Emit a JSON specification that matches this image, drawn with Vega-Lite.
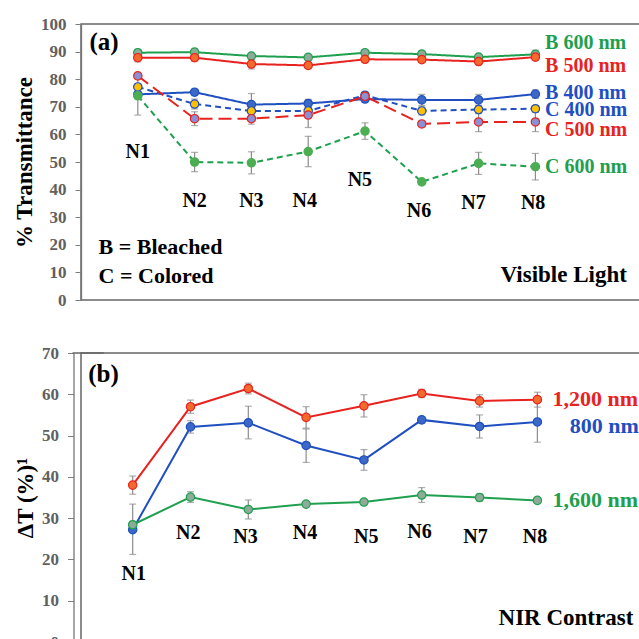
{
  "$schema": "https://vega.github.io/schema/vega-lite/v6.json",
  "padding": {"left": 12, "top": 14, "right": 0, "bottom": 0},
  "background": "white",
  "spacing": 34,
  "resolve": {"scale": {"x": "independent", "y": "independent", "color": "independent", "fill": "independent", "stroke": "independent", "strokeDash": "independent", "size": "independent"}},
  "config": {
    "view": {"stroke": "#666666", "strokeWidth": 1.5},
    "axis": {
      "labelFont": "Liberation Serif", "labelFontWeight": "bold", "labelFontSize": 17, "labelColor": "#606060",
      "tickColor": "#7f7f7f", "tickSize": 6, "domainColor": "#777777", "domainWidth": 1.3, "labelPadding": 9,
      "labelOverlap": false,
      "titleFont": "Liberation Serif", "titleFontSize": 23, "titleFontWeight": "bold", "titleColor": "#000000", "titlePadding": 4,
      "grid": false
    },
    "text": {"font": "Liberation Serif", "fontWeight": "bold"}
  },
  "datasets": {
    "vis": [
      {"s": "B 600", "x": 1, "y": 89.6, "lo": 88.4, "hi": 90.8},
      {"s": "B 600", "x": 2, "y": 89.8, "lo": 88.6, "hi": 91.0},
      {"s": "B 600", "x": 3, "y": 88.4, "lo": 87.6, "hi": 89.2},
      {"s": "B 600", "x": 4, "y": 87.9, "lo": 87.4, "hi": 88.4},
      {"s": "B 600", "x": 5, "y": 89.6, "lo": 89.1, "hi": 90.1},
      {"s": "B 600", "x": 6, "y": 89.1, "lo": 88.1, "hi": 90.1},
      {"s": "B 600", "x": 7, "y": 88.0, "lo": 87.2, "hi": 88.8},
      {"s": "B 600", "x": 8, "y": 89.0, "lo": 87.5, "hi": 90.5},
      {"s": "B 500", "x": 1, "y": 87.8, "lo": 86.3, "hi": 89.3},
      {"s": "B 500", "x": 2, "y": 87.8, "lo": 86.6, "hi": 89.0},
      {"s": "B 500", "x": 3, "y": 85.5, "lo": 83.7, "hi": 87.3},
      {"s": "B 500", "x": 4, "y": 85.0, "lo": 84.0, "hi": 86.0},
      {"s": "B 500", "x": 5, "y": 87.2, "lo": 86.7, "hi": 87.7},
      {"s": "B 500", "x": 6, "y": 87.1, "lo": 86.1, "hi": 88.1},
      {"s": "B 500", "x": 7, "y": 86.4, "lo": 85.6, "hi": 87.2},
      {"s": "B 500", "x": 8, "y": 88.0, "lo": 87.0, "hi": 89.0},
      {"s": "B 400", "x": 1, "y": 74.5, "lo": 73.5, "hi": 75.5},
      {"s": "B 400", "x": 2, "y": 75.3, "lo": 74.3, "hi": 76.3},
      {"s": "B 400", "x": 3, "y": 70.8, "lo": 66.8, "hi": 74.8},
      {"s": "B 400", "x": 4, "y": 71.2, "lo": 69.7, "hi": 72.7},
      {"s": "B 400", "x": 5, "y": 72.8, "lo": 71.8, "hi": 73.8},
      {"s": "B 400", "x": 6, "y": 72.5, "lo": 70.5, "hi": 74.5},
      {"s": "B 400", "x": 7, "y": 72.5, "lo": 70.5, "hi": 74.5},
      {"s": "B 400", "x": 8, "y": 74.6, "lo": 73.1, "hi": 76.1},
      {"s": "C 400", "x": 1, "y": 77.2, "lo": 76.2, "hi": 78.2},
      {"s": "C 400", "x": 2, "y": 71.0, "lo": 69.2, "hi": 72.8},
      {"s": "C 400", "x": 3, "y": 68.5, "lo": 67.5, "hi": 69.5},
      {"s": "C 400", "x": 4, "y": 68.5, "lo": 67.3, "hi": 69.7},
      {"s": "C 400", "x": 5, "y": 74.2, "lo": 73.2, "hi": 75.2},
      {"s": "C 400", "x": 6, "y": 68.5, "lo": 67.0, "hi": 70.0},
      {"s": "C 400", "x": 7, "y": 69.0, "lo": 67.5, "hi": 70.5},
      {"s": "C 400", "x": 8, "y": 69.3, "lo": 68.3, "hi": 70.3},
      {"s": "C 500", "x": 1, "y": 81.2, "lo": 80.2, "hi": 82.2},
      {"s": "C 500", "x": 2, "y": 65.7, "lo": 63.2, "hi": 68.2},
      {"s": "C 500", "x": 3, "y": 65.7, "lo": 63.7, "hi": 67.7},
      {"s": "C 500", "x": 4, "y": 67.0, "lo": 62.5, "hi": 71.5},
      {"s": "C 500", "x": 5, "y": 73.8, "lo": 72.3, "hi": 75.3},
      {"s": "C 500", "x": 6, "y": 63.8, "lo": 62.8, "hi": 64.8},
      {"s": "C 500", "x": 7, "y": 64.5, "lo": 61.0, "hi": 68.0},
      {"s": "C 500", "x": 8, "y": 64.5, "lo": 61.0, "hi": 68.0},
      {"s": "C 600", "x": 1, "y": 74.0, "lo": 67.0, "hi": 81.0},
      {"s": "C 600", "x": 2, "y": 50.0, "lo": 46.5, "hi": 53.5},
      {"s": "C 600", "x": 3, "y": 49.7, "lo": 45.7, "hi": 53.7},
      {"s": "C 600", "x": 4, "y": 53.8, "lo": 48.3, "hi": 59.3},
      {"s": "C 600", "x": 5, "y": 61.2, "lo": 58.2, "hi": 64.2},
      {"s": "C 600", "x": 6, "y": 42.8, "lo": 42.0, "hi": 43.6},
      {"s": "C 600", "x": 7, "y": 49.5, "lo": 45.5, "hi": 53.5},
      {"s": "C 600", "x": 8, "y": 48.3, "lo": 43.5, "hi": 53.1}
    ],
    "visSeriesLabels": [
      {"t": "B 600 nm", "s": "B 600", "x": 8.17, "y": 90.9},
      {"t": "B 500 nm", "s": "B 500", "x": 8.17, "y": 82.5},
      {"t": "B 400 nm", "s": "B 400", "x": 8.17, "y": 73.0},
      {"t": "C 400 nm", "s": "C 400", "x": 8.17, "y": 66.5},
      {"t": "C 500 nm", "s": "C 500", "x": 8.17, "y": 59.3},
      {"t": "C 600 nm", "s": "C 600", "x": 8.17, "y": 46.0}
    ],
    "visN": [
      {"t": "N1", "x": 1.0, "y": 53.7},
      {"t": "N2", "x": 2.0, "y": 36.0},
      {"t": "N3", "x": 3.0, "y": 36.0},
      {"t": "N4", "x": 3.94, "y": 36.0},
      {"t": "N5", "x": 4.91, "y": 43.4},
      {"t": "N6", "x": 5.95, "y": 32.2},
      {"t": "N7", "x": 6.91, "y": 35.0},
      {"t": "N8", "x": 7.96, "y": 35.0}
    ],
    "nir": [
      {"s": "1200", "x": 1, "y": 38.0, "lo": 35.8, "hi": 40.2},
      {"s": "1200", "x": 2, "y": 57.0, "lo": 55.4, "hi": 58.6},
      {"s": "1200", "x": 3, "y": 61.4, "lo": 60.1, "hi": 62.7},
      {"s": "1200", "x": 4, "y": 54.4, "lo": 51.8, "hi": 57.0},
      {"s": "1200", "x": 5, "y": 57.2, "lo": 54.5, "hi": 59.9},
      {"s": "1200", "x": 6, "y": 60.2, "lo": 59.2, "hi": 61.2},
      {"s": "1200", "x": 7, "y": 58.4, "lo": 56.9, "hi": 59.9},
      {"s": "1200", "x": 8, "y": 58.7, "lo": 56.9, "hi": 60.5},
      {"s": "800", "x": 1, "y": 27.2, "lo": 21.2, "hi": 33.4},
      {"s": "800", "x": 2, "y": 52.1, "lo": 50.6, "hi": 53.6},
      {"s": "800", "x": 3, "y": 53.1, "lo": 49.2, "hi": 57.1},
      {"s": "800", "x": 4, "y": 47.6, "lo": 43.5, "hi": 51.6},
      {"s": "800", "x": 5, "y": 44.1, "lo": 41.6, "hi": 46.6},
      {"s": "800", "x": 6, "y": 53.8, "lo": 53.0, "hi": 54.6},
      {"s": "800", "x": 7, "y": 52.2, "lo": 49.4, "hi": 55.0},
      {"s": "800", "x": 8, "y": 53.3, "lo": 48.4, "hi": 58.0},
      {"s": "1600", "x": 1, "y": 28.4, "lo": 27.6, "hi": 29.2},
      {"s": "1600", "x": 2, "y": 35.1, "lo": 33.8, "hi": 36.4},
      {"s": "1600", "x": 3, "y": 32.1, "lo": 29.8, "hi": 34.4},
      {"s": "1600", "x": 4, "y": 33.4, "lo": 32.9, "hi": 33.9},
      {"s": "1600", "x": 5, "y": 33.9, "lo": 33.4, "hi": 34.4},
      {"s": "1600", "x": 6, "y": 35.6, "lo": 33.8, "hi": 37.4},
      {"s": "1600", "x": 7, "y": 35.0, "lo": 34.2, "hi": 35.8},
      {"s": "1600", "x": 8, "y": 34.3, "lo": 33.8, "hi": 34.8}
    ],
    "nirSeriesLabels": [
      {"t": "1,200 nm", "s": "1200", "x": 8.26, "y": 57.25},
      {"t": "800 nm", "s": "800", "x": 8.56, "y": 50.6},
      {"t": "1,600 nm", "s": "1600", "x": 8.26, "y": 32.8}
    ],
    "nirN": [
      {"t": "N1", "x": 1.02, "y": 16.4},
      {"t": "N2", "x": 1.96, "y": 26.5},
      {"t": "N3", "x": 2.95, "y": 25.4},
      {"t": "N4", "x": 3.98, "y": 26.3},
      {"t": "N5", "x": 5.04, "y": 25.4},
      {"t": "N6", "x": 5.96, "y": 26.6},
      {"t": "N7", "x": 6.93, "y": 25.4},
      {"t": "N8", "x": 7.96, "y": 25.4}
    ]
  },
  "vconcat": [
    {
      "width": 568,
      "height": 276,
      "layer": [
        {
          "data": {"name": "vis"},
          "mark": {"type": "rule", "color": "#8c8c8c", "strokeWidth": 1.2},
          "encoding": {
            "x": {"field": "x", "type": "quantitative", "scale": {"domain": [0, 10], "nice": false, "zero": false, "padding": 0}, "axis": null},
            "y": {"field": "lo", "type": "quantitative", "scale": {"domain": [0, 100], "nice": false, "padding": 0},
                  "axis": {"title": "% Transmittance", "values": [0, 10, 20, 30, 40, 50, 60, 70, 80, 90, 100], "tickCount": 11, "labelOverlap": false}},
            "y2": {"field": "hi"}
          }
        },
        {
          "data": {"name": "vis"},
          "mark": {"type": "tick", "orient": "horizontal", "color": "#8c8c8c", "thickness": 1.2, "size": 7},
          "encoding": {
            "x": {"field": "x", "type": "quantitative"},
            "y": {"field": "lo", "type": "quantitative", "axis": {"title": "% Transmittance", "values": [0, 10, 20, 30, 40, 50, 60, 70, 80, 90, 100], "tickCount": 11, "labelOverlap": false}}
          }
        },
        {
          "data": {"name": "vis"},
          "mark": {"type": "tick", "orient": "horizontal", "color": "#8c8c8c", "thickness": 1.2, "size": 7},
          "encoding": {
            "x": {"field": "x", "type": "quantitative"},
            "y": {"field": "hi", "type": "quantitative", "axis": {"title": "% Transmittance", "values": [0, 10, 20, 30, 40, 50, 60, 70, 80, 90, 100], "tickCount": 11, "labelOverlap": false}}
          }
        },
        {
          "data": {"name": "vis"},
          "mark": {"type": "line", "strokeWidth": 2},
          "encoding": {
            "x": {"field": "x", "type": "quantitative"},
            "y": {"field": "y", "type": "quantitative", "axis": {"title": "% Transmittance", "values": [0, 10, 20, 30, 40, 50, 60, 70, 80, 90, 100], "tickCount": 11, "labelOverlap": false}},
            "color": {"field": "s", "type": "nominal", "legend": null,
                      "scale": {"domain": ["B 600", "B 500", "B 400", "C 400", "C 500", "C 600"],
                                "range": ["#1ea04f", "#e8231f", "#1f4fc0", "#1f4fc0", "#e8231f", "#1ea04f"]}},
            "strokeDash": {"field": "s", "type": "nominal", "legend": null,
                           "scale": {"domain": ["B 600", "B 500", "B 400", "C 400", "C 500", "C 600"],
                                     "range": [[1, 0], [1, 0], [1, 0], [6, 4], [13, 6], [6, 4]]}},
            "order": {"field": "x", "type": "quantitative"}
          }
        },
        {
          "data": {"name": "vis"},
          "mark": {"type": "point", "filled": true, "opacity": 1, "strokeWidth": 1.2},
          "encoding": {
            "x": {"field": "x", "type": "quantitative"},
            "y": {"field": "y", "type": "quantitative", "axis": {"title": "% Transmittance", "values": [0, 10, 20, 30, 40, 50, 60, 70, 80, 90, 100], "tickCount": 11, "labelOverlap": false}},
            "fill": {"field": "s", "type": "nominal", "legend": null,
                     "scale": {"domain": ["B 600", "B 500", "B 400", "C 400", "C 500", "C 600"],
                               "range": ["#8dab98", "#f26b2c", "#3c68c8", "#ffc000", "#8a90d4", "#4cae52"]}},
            "stroke": {"field": "s", "type": "nominal", "legend": null,
                       "scale": {"domain": ["B 600", "B 500", "B 400", "C 400", "C 500", "C 600"],
                                 "range": ["#1ea04f", "#e8231f", "#1f4fc0", "#1f4fc0", "#e8231f", "#4cae52"]}},
            "size": {"field": "s", "type": "nominal", "legend": null,
                     "scale": {"domain": ["B 600", "B 500", "B 400", "C 400", "C 500", "C 600"],
                               "range": [70, 70, 70, 70, 70, 35]}}
          }
        },
        {
          "data": {"name": "visSeriesLabels"},
          "mark": {"type": "text", "align": "left", "baseline": "alphabetic", "fontSize": 20},
          "encoding": {
            "x": {"field": "x", "type": "quantitative"},
            "y": {"field": "y", "type": "quantitative", "axis": {"title": "% Transmittance", "values": [0, 10, 20, 30, 40, 50, 60, 70, 80, 90, 100], "tickCount": 11, "labelOverlap": false}},
            "text": {"field": "t"},
            "color": {"field": "s", "type": "nominal", "legend": null}
          }
        },
        {
          "data": {"name": "visN"},
          "mark": {"type": "text", "align": "center", "baseline": "middle", "fontSize": 20, "color": "#000000"},
          "encoding": {
            "x": {"field": "x", "type": "quantitative"},
            "y": {"field": "y", "type": "quantitative", "axis": {"title": "% Transmittance", "values": [0, 10, 20, 30, 40, 50, 60, 70, 80, 90, 100], "tickCount": 11, "labelOverlap": false}},
            "text": {"field": "t"}
          }
        },
        {
          "data": {"values": [{"t": "(a)", "x": 0.15, "y": 93.3}]},
          "mark": {"type": "text", "align": "left", "baseline": "middle", "fontSize": 25, "color": "#000000"},
          "encoding": {
            "x": {"field": "x", "type": "quantitative"},
            "y": {"field": "y", "type": "quantitative", "axis": {"title": "% Transmittance", "values": [0, 10, 20, 30, 40, 50, 60, 70, 80, 90, 100], "tickCount": 11, "labelOverlap": false}},
            "text": {"field": "t"}
          }
        },
        {
          "data": {"values": [{"t": "B = Bleached", "x": 0.31, "y": 16.8}, {"t": "C = Colored", "x": 0.31, "y": 6.3}]},
          "mark": {"type": "text", "align": "left", "baseline": "alphabetic", "fontSize": 22, "color": "#000000"},
          "encoding": {
            "x": {"field": "x", "type": "quantitative"},
            "y": {"field": "y", "type": "quantitative", "axis": {"title": "% Transmittance", "values": [0, 10, 20, 30, 40, 50, 60, 70, 80, 90, 100], "tickCount": 11, "labelOverlap": false}},
            "text": {"field": "t"}
          }
        },
        {
          "data": {"values": [{"t": "Visible Light", "x": 9.61, "y": 6.4}]},
          "mark": {"type": "text", "align": "right", "baseline": "alphabetic", "fontSize": 23, "color": "#000000"},
          "encoding": {
            "x": {"field": "x", "type": "quantitative"},
            "y": {"field": "y", "type": "quantitative", "axis": {"title": "% Transmittance", "values": [0, 10, 20, 30, 40, 50, 60, 70, 80, 90, 100], "tickCount": 11, "labelOverlap": false}},
            "text": {"field": "t"}
          }
        }
      ]
    },
    {
      "width": 572,
      "height": 289,
      "layer": [
        {
          "data": {"values": [{"x": -0.04, "x2": 0.5, "y": 70}]},
          "mark": {"type": "rule", "color": "#666666", "strokeWidth": 1.5},
          "encoding": {
            "x": {"field": "x", "type": "quantitative", "scale": {"domain": [0.106, 10], "nice": false, "zero": false, "padding": 0}, "axis": null},
            "x2": {"field": "x2"},
            "y": {"field": "y", "type": "quantitative", "scale": {"domain": [0, 70], "nice": false, "padding": 0},
                  "axis": {"title": "ΔT (%)¹", "values": [0, 10, 20, 30, 40, 50, 60, 70], "offset": 7.5, "labelOverlap": false}}
          }
        },
        {
          "data": {"name": "nir"},
          "mark": {"type": "rule", "color": "#8c8c8c", "strokeWidth": 1.2},
          "encoding": {
            "x": {"field": "x", "type": "quantitative"},
            "y": {"field": "lo", "type": "quantitative"},
            "y2": {"field": "hi"}
          }
        },
        {
          "data": {"name": "nir"},
          "mark": {"type": "tick", "orient": "horizontal", "color": "#8c8c8c", "thickness": 1.2, "size": 7},
          "encoding": {
            "x": {"field": "x", "type": "quantitative"},
            "y": {"field": "lo", "type": "quantitative"}
          }
        },
        {
          "data": {"name": "nir"},
          "mark": {"type": "tick", "orient": "horizontal", "color": "#8c8c8c", "thickness": 1.2, "size": 7},
          "encoding": {
            "x": {"field": "x", "type": "quantitative"},
            "y": {"field": "hi", "type": "quantitative"}
          }
        },
        {
          "data": {"name": "nir"},
          "mark": {"type": "line", "strokeWidth": 2},
          "encoding": {
            "x": {"field": "x", "type": "quantitative"},
            "y": {"field": "y", "type": "quantitative"},
            "color": {"field": "s", "type": "nominal", "legend": null,
                      "scale": {"domain": ["1200", "800", "1600"], "range": ["#e8231f", "#1f4fc0", "#1ea04f"]}},
            "order": {"field": "x", "type": "quantitative"}
          }
        },
        {
          "data": {"name": "nir"},
          "mark": {"type": "point", "filled": true, "opacity": 1, "strokeWidth": 1.2, "size": 70},
          "encoding": {
            "x": {"field": "x", "type": "quantitative"},
            "y": {"field": "y", "type": "quantitative"},
            "fill": {"field": "s", "type": "nominal", "legend": null,
                     "scale": {"domain": ["1200", "800", "1600"], "range": ["#f26b2c", "#3c68c8", "#8dab98"]}},
            "stroke": {"field": "s", "type": "nominal", "legend": null,
                       "scale": {"domain": ["1200", "800", "1600"], "range": ["#e8231f", "#1f4fc0", "#1ea04f"]}}
          }
        },
        {
          "data": {"name": "nirSeriesLabels"},
          "mark": {"type": "text", "align": "left", "baseline": "alphabetic", "fontSize": 22},
          "encoding": {
            "x": {"field": "x", "type": "quantitative"},
            "y": {"field": "y", "type": "quantitative"},
            "text": {"field": "t"},
            "color": {"field": "s", "type": "nominal", "legend": null}
          }
        },
        {
          "data": {"name": "nirN"},
          "mark": {"type": "text", "align": "center", "baseline": "middle", "fontSize": 20, "color": "#000000"},
          "encoding": {
            "x": {"field": "x", "type": "quantitative"},
            "y": {"field": "y", "type": "quantitative"},
            "text": {"field": "t"}
          }
        },
        {
          "data": {"values": [{"t": "(b)", "x": 0.23, "y": 64.9}]},
          "mark": {"type": "text", "align": "left", "baseline": "middle", "fontSize": 25, "color": "#000000"},
          "encoding": {
            "x": {"field": "x", "type": "quantitative"},
            "y": {"field": "y", "type": "quantitative"},
            "text": {"field": "t"}
          }
        },
        {
          "data": {"values": [{"t": "NIR Contrast", "x": 9.66, "y": 4.0}]},
          "mark": {"type": "text", "align": "right", "baseline": "alphabetic", "fontSize": 23, "color": "#000000"},
          "encoding": {
            "x": {"field": "x", "type": "quantitative"},
            "y": {"field": "y", "type": "quantitative"},
            "text": {"field": "t"}
          }
        }
      ]
    }
  ]
}
